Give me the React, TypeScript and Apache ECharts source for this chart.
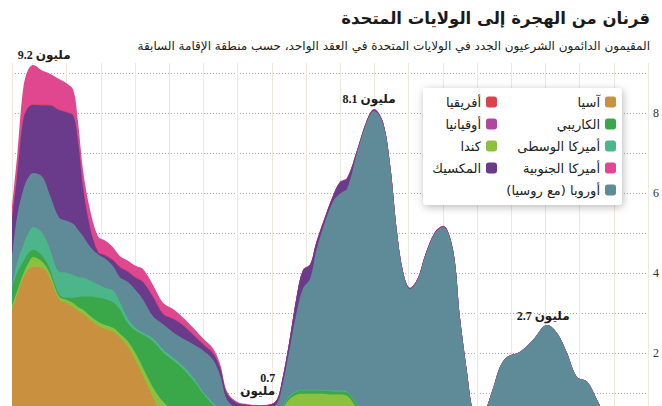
import React, { useEffect, useRef } from "react";
import * as echarts from "echarts";

// Decade-window totals (millions of new permanent residents), sampled along the time axis
const years = [
  2006, 2004.5, 2002.7, 2001.3, 1999.8, 1997.2, 1995.1, 1992.2, 1990.2, 1988.1,
  1986.7, 1985.2, 1983.2, 1980.8, 1978.8, 1976.4, 1974.4, 1972.3, 1970, 1967.7,
  1964.7, 1961.8, 1958.9, 1956, 1953, 1950.1, 1947.2, 1945.1, 1943.1, 1940.2,
  1937, 1934, 1930.5, 1928.5, 1927, 1925, 1922.6, 1920.9, 1918.8, 1917.1,
  1915, 1912.1, 1910.1, 1908, 1905.1, 1902.2, 1900.1, 1897.5, 1895.4, 1893.4,
  1891.6, 1889.6, 1887.3, 1885.2, 1882.3, 1879.9, 1877, 1875, 1872.9, 1871.5,
  1870, 1868.5, 1867.1, 1865, 1863.3, 1861.2, 1857.4, 1853.6, 1849.5, 1846.6,
  1843.7, 1840.8, 1837.8, 1834.9, 1832.6, 1829.9, 1825, 1820,
];

const asia = [
  3.08, 3.45, 3.88, 4.08, 4.15, 4.13, 3.9, 3.33, 3.25, 3.15,
  3.05, 2.98, 2.83, 2.68, 2.6, 2.53, 2.38, 2.18, 1.83, 1.43,
  0.88, 0.38, 0.2, 0.12, 0.08, 0.05, 0.05, 0.05, 0.04, 0.04,
  0.04, 0.04, 0.05, 0.06, 0.08, 0.08, 0.08, 0.08, 0.08, 0.08,
  0.08, 0.08, 0.08, 0.08, 0.08, 0.07, 0.07, 0.07, 0.07, 0.07,
  0.07, 0.07, 0.07, 0.07, 0.08, 0.08, 0.08, 0.06, 0.05, 0.04,
  0.03, 0.03, 0.03, 0.04, 0.04, 0.04, 0.03, 0.02, 0.01, 0.01,
  0, 0, 0, 0, 0, 0, 0, 0,
];

const canada = [
  0.1, 0.1, 0.1, 0.15, 0.25, 0.15, 0.12, 0.08, 0.08, 0.1,
  0.1, 0.1, 0.1, 0.1, 0.1, 0.1, 0.1, 0.13, 0.18, 0.2,
  0.25, 0.4, 0.38, 0.33, 0.25, 0.2, 0.15, 0.15, 0.12, 0.12,
  0.13, 0.15, 0.25, 0.35, 0.5, 0.75, 0.88, 0.9, 0.9, 0.9,
  0.9, 0.88, 0.88, 0.85, 0.55, 0.4, 0.35, 0.35, 0.33, 0.3,
  0.3, 0.28, 0.28, 0.28, 0.28, 0.28, 0.25, 0.22, 0.18, 0.15,
  0.1, 0.08, 0.1, 0.12, 0.15, 0.15, 0.15, 0.12, 0.1, 0.1,
  0.08, 0.06, 0.05, 0.04, 0.03, 0.02, 0.01, 0,
];

const caribbean = [
  0.45, 0.45, 0.3, 0.25, 0.18, 0.15, 0.12, 0.05, 0.05, 0.13,
  0.25, 0.33, 0.48, 0.6, 0.65, 0.63, 0.6, 0.45, 0.55, 0.83,
  1.15, 1.23, 1.23, 1.15, 0.98, 0.73, 0.5, 0.35, 0.2, 0.15,
  0.12, 0.1, 0.06, 0.05, 0.05, 0.06, 0.08, 0.08, 0.08, 0.08,
  0.08, 0.08, 0.08, 0.08, 0.08, 0.05, 0.05, 0.05, 0.04, 0.04,
  0.04, 0.04, 0.04, 0.04, 0.03, 0.03, 0.03, 0.03, 0.02, 0.02,
  0.01, 0.01, 0.01, 0.01, 0.01, 0.01, 0.01, 0.01, 0.01, 0.01,
  0.01, 0.01, 0.01, 0, 0, 0, 0, 0,
];

const centralAmerica = [
  0.02, 0.25, 0.42, 0.5, 0.57, 0.58, 0.5, 0.57, 0.63, 0.57,
  0.5, 0.48, 0.4, 0.33, 0.28, 0.3, 0.18, 0.13, 0.08, 0.05,
  0.08, 0.08, 0.08, 0.08, 0.08, 0.05, 0.05, 0.03, 0.02, 0.02,
  0.02, 0.02, 0.02, 0.02, 0.02, 0.02, 0.02, 0.02, 0.02, 0.02,
  0.02, 0.02, 0.02, 0.02, 0.02, 0.01, 0.01, 0.01, 0.01, 0.01,
  0.01, 0.01, 0.01, 0.01, 0.01, 0.01, 0.01, 0.01, 0, 0,
  0, 0, 0, 0, 0, 0, 0, 0, 0, 0,
  0, 0, 0, 0, 0, 0, 0, 0,
];

const europe = [
  0.75, 1.17, 1.38, 1.4, 1.35, 1.4, 1.35, 1.35, 1.3, 1.28,
  1.18, 1.03, 0.85, 0.75, 0.73, 0.6, 0.63, 0.9, 0.95, 0.83,
  0.55, 0.63, 0.63, 0.68, 0.83, 1.03, 1.08, 0.85, 0.45, 0.3,
  0.29, 0.31, 0.25, 0.25, 0.5, 1.1, 2.02, 2.53, 2.78, 3.45,
  4.06, 4.73, 4.92, 5.08, 6.27, 7.25, 7.57, 7.26, 6.22, 4.58,
  3.58, 3.2, 3.45, 4.02, 4.6, 4.75, 4.18, 2.56, 1.24, 0.44,
  0.16, 0.13, 0.51, 1.03, 1.45, 1.7, 1.84, 2.18, 2.58, 2.38,
  1.91, 1.33, 1.22, 0.79, 0.42, 0.23, 0.09, 0.03,
];

const mexico = [
  0.9, 1.0, 1.75, 1.75, 1.7, 1.78, 2.2, 2.69, 2.71, 2.7,
  2.2, 1.18, 0.48, 0.05, 0.08, 0.15, 0.25, 0.25, 0.3, 0.43,
  0.48, 0.25, 0.33, 0.33, 0.23, 0.15, 0.15, 0.18, 0.15, 0.12,
  0.1, 0.06, 0.08, 0.1, 0.16, 0.22, 0.4, 0.45, 0.35, 0.2,
  0.12, 0.14, 0.28, 0.25, 0.06, 0.04, 0.04, 0.03, 0.02, 0.02,
  0.02, 0.02, 0.02, 0.02, 0.02, 0.02, 0.02, 0.01, 0.01, 0,
  0, 0, 0, 0, 0, 0, 0, 0, 0, 0,
  0, 0, 0, 0, 0, 0, 0, 0,
];

const oceania = [
  0.01, 0.01, 0.01, 0.01, 0.01, 0.01, 0.01, 0.01, 0.01, 0.01,
  0.01, 0.01, 0.01, 0.01, 0.01, 0.01, 0.01, 0.01, 0.01, 0.01,
  0.01, 0.01, 0.01, 0.01, 0.01, 0.01, 0.01, 0.01, 0, 0,
  0, 0, 0, 0, 0, 0, 0, 0, 0, 0,
  0, 0, 0, 0, 0, 0, 0, 0, 0, 0,
  0, 0, 0, 0, 0, 0, 0, 0, 0, 0,
  0, 0, 0, 0, 0, 0, 0, 0, 0, 0,
  0, 0, 0, 0, 0, 0, 0, 0,
];

const africa = [
  0.01, 0.01, 0.01, 0.01, 0.01, 0.01, 0.01, 0.01, 0.01, 0.01,
  0.01, 0.01, 0.01, 0.01, 0.01, 0.01, 0.01, 0.01, 0.01, 0.01,
  0.01, 0.01, 0.01, 0.01, 0.01, 0.01, 0.01, 0.01, 0, 0,
  0, 0, 0, 0, 0, 0, 0, 0, 0, 0,
  0, 0, 0, 0, 0, 0, 0, 0, 0, 0,
  0, 0, 0, 0, 0, 0, 0, 0, 0, 0,
  0, 0, 0, 0, 0, 0, 0, 0, 0, 0,
  0, 0, 0, 0, 0, 0, 0, 0,
];

const southAmerica = [
  0.33, 0.49, 0.78, 0.93, 0.98, 0.85, 0.78, 0.76, 0.71, 0.63,
  0.48, 0.43, 0.43, 0.38, 0.35, 0.31, 0.26, 0.26, 0.28, 0.31,
  0.28, 0.26, 0.23, 0.18, 0.16, 0.13, 0.11, 0.08, 0.05, 0.03,
  0.02, 0.02, 0.01, 0.01, 0.02, 0.02, 0.02, 0.02, 0.02, 0.02,
  0.02, 0.02, 0.02, 0.02, 0.02, 0.01, 0.01, 0.01, 0.01, 0.01,
  0.01, 0.01, 0.01, 0.01, 0.01, 0.01, 0.01, 0.01, 0, 0,
  0, 0, 0, 0, 0, 0, 0, 0, 0, 0,
  0, 0, 0, 0, 0, 0, 0, 0,
];

const RLM = "\u200F";

// Stack order, bottom to top
const layers = [
  { name: "آسيا", values: asia, color: "#c9913f" },
  { name: "كندا", values: canada, color: "#8cc13f" },
  { name: "الكاريبي", values: caribbean, color: "#3aa749" },
  { name: "أميركا الوسطى", values: centralAmerica, color: "#4db58a" },
  { name: "أوروبا (مع روسيا)" + RLM, values: europe, color: "#5f8b99" },
  { name: "المكسيك", values: mexico, color: "#6a3b8a" },
  { name: "أوقيانيا", values: oceania, color: "#b0479c" },
  { name: "أفريقيا", values: africa, color: "#d9434b" },
  { name: "أميركا الجنوبية", values: southAmerica, color: "#e0478f" },
];

const legendRight = ["آسيا", "الكاريبي", "أميركا الوسطى", "أميركا الجنوبية", "أوروبا (مع روسيا)" + RLM];
const legendLeft = ["أفريقيا", "أوقيانيا", "كندا", "المكسيك"];

const yTicks = [2, 4, 6, 8];

// Peak callouts: [year, total, text]
const callouts: [number, number, string][] = [
  [1999.8, 9.2, "9.2 مليون"],
  [1900.1, 8.1, "8.1 مليون"],
  [1849.5, 2.7, "2.7 مليون"],
  [1934, 0.7, "0.7\nمليون"],
];

const TITLE = "قرنان من الهجرة إلى الولايات المتحدة";
const SUBTITLE =
  "المقيمون الدائمون الشرعيون الجدد في الولايات المتحدة في العقد الواحد، حسب منطقة الإقامة السابقة";

const AR_FONT = "'DejaVu Sans', sans-serif";
const NUM_FONT = "'Liberation Serif', 'DejaVu Sans', serif";

// Running totals per layer: each band is drawn as the area under its cumulative top,
// painted from the highest band down so the lower bands sit in front.
function cumulativeLayers() {
  const running = years.map(() => 0);
  return layers.map((l) => {
    const top = l.values.map((v, i) => (running[i] = +(running[i] + v).toFixed(4)));
    return { ...l, top };
  });
}

export default function App() {
  const ref = useRef<HTMLDivElement>(null);

  useEffect(() => {
    if (!ref.current) return;
    const chart = echarts.init(ref.current, undefined, { renderer: "svg" });

    const legendCommon = {
      orient: "vertical" as const,
      top: 89,
      align: "right" as const,
      icon: "roundRect",
      itemWidth: 11,
      itemHeight: 11,
      itemGap: 6,
      selectedMode: false,
      textStyle: { fontFamily: AR_FONT, fontSize: 13, color: "#222", lineHeight: 16 },
    };

    const baseGraphic: any[] = [
      {
        id: "legendBox",
        type: "rect",
        z: 3,
        shape: { x: 423, y: 88, width: 199, height: 117, r: 4 },
        style: {
          fill: "#fff",
          shadowBlur: 8,
          shadowColor: "rgba(0,0,0,0.28)",
          shadowOffsetX: 1,
          shadowOffsetY: 2,
        },
      },
      {
        id: "title",
        type: "text",
        z: 5,
        style: {
          text: TITLE,
          x: 650,
          y: 18,
          align: "right",
          verticalAlign: "middle",
          font: `bold 16.5px ${AR_FONT}`,
          fill: "#1a1a1a",
        },
      },
      {
        id: "subtitle",
        type: "text",
        z: 5,
        style: {
          text: SUBTITLE,
          x: 650,
          y: 46,
          align: "right",
          verticalAlign: "middle",
          font: `12px ${AR_FONT}`,
          fill: "#222",
        },
      },
    ];

    const stacked = cumulativeLayers();
    const drawOrder = [...stacked].reverse();

    chart.setOption({
      animation: false,
      backgroundColor: "#fff",
      grid: { left: 12, right: 14, top: 63, bottom: 37 },
      xAxis: {
        type: "value",
        inverse: true,
        min: 1820,
        max: 2006,
        interval: 10,
        axisLine: { show: false },
        axisTick: { show: false },
        axisLabel: { show: false },
        splitLine: { show: true, lineStyle: { color: "#ede8de", width: 1 } },
      },
      yAxis: {
        type: "value",
        position: "right",
        min: 0,
        max: 9.25,
        interval: 1,
        axisLine: { show: false },
        axisTick: { show: false },
        axisLabel: {
          margin: 5,
          color: "#333",
          fontFamily: NUM_FONT,
          fontSize: 12,
          formatter: (v: number) => (yTicks.includes(v) ? String(v) : ""),
        },
        splitLine: {
          show: true,
          showMaxLine: false,
          lineStyle: { color: "#a8a8a8", type: [1, 2], width: 1 },
        },
      },
      legend: [
        { ...legendCommon, right: 41, data: legendRight },
        { ...legendCommon, right: 160, data: legendLeft },
      ],
      series: drawOrder.map((l) => ({
        name: l.name,
        type: "line",
        smooth: 0.35,
        symbol: "none",
        showSymbol: false,
        color: l.color,
        lineStyle: { width: 0 },
        areaStyle: { color: l.color, opacity: 1, origin: "start" },
        data: years.map((y, i) => [y, l.top[i]]),
      })),
      graphic: baseGraphic,
    });

    // Value callouts anchored to the stacked peaks
    const offsets: [number, number, string][] = [
      [11, -4, "center"],
      [-5, -4, "center"],
      [-4, -3, "center"],
      [17, -8, "right"],
    ];
    const labels = callouts.map(([yr, v, text], i) => {
      const p = chart.convertToPixel({ gridIndex: 0 }, [yr, v]) as number[];
      const [dx, dy, align] = offsets[i];
      return {
        id: "callout" + i,
        type: "text",
        z: 5,
        style: {
          text,
          x: p[0] + dx,
          y: p[1] + dy,
          align,
          verticalAlign: "bottom",
          lineHeight: 13,
          font: `bold 12px ${NUM_FONT}`,
          fill: "#1a1a1a",
        },
      };
    });
    chart.setOption({ graphic: [...baseGraphic, ...labels] });

    return () => chart.dispose();
  }, []);

  return (
    <div
      style={{
        position: "fixed",
        left: 0,
        top: 0,
        width: 662,
        height: 406,
        overflow: "hidden",
        background: "#fff",
      }}
    >
      <div ref={ref} style={{ width: 662, height: 470 }} />
    </div>
  );
}
